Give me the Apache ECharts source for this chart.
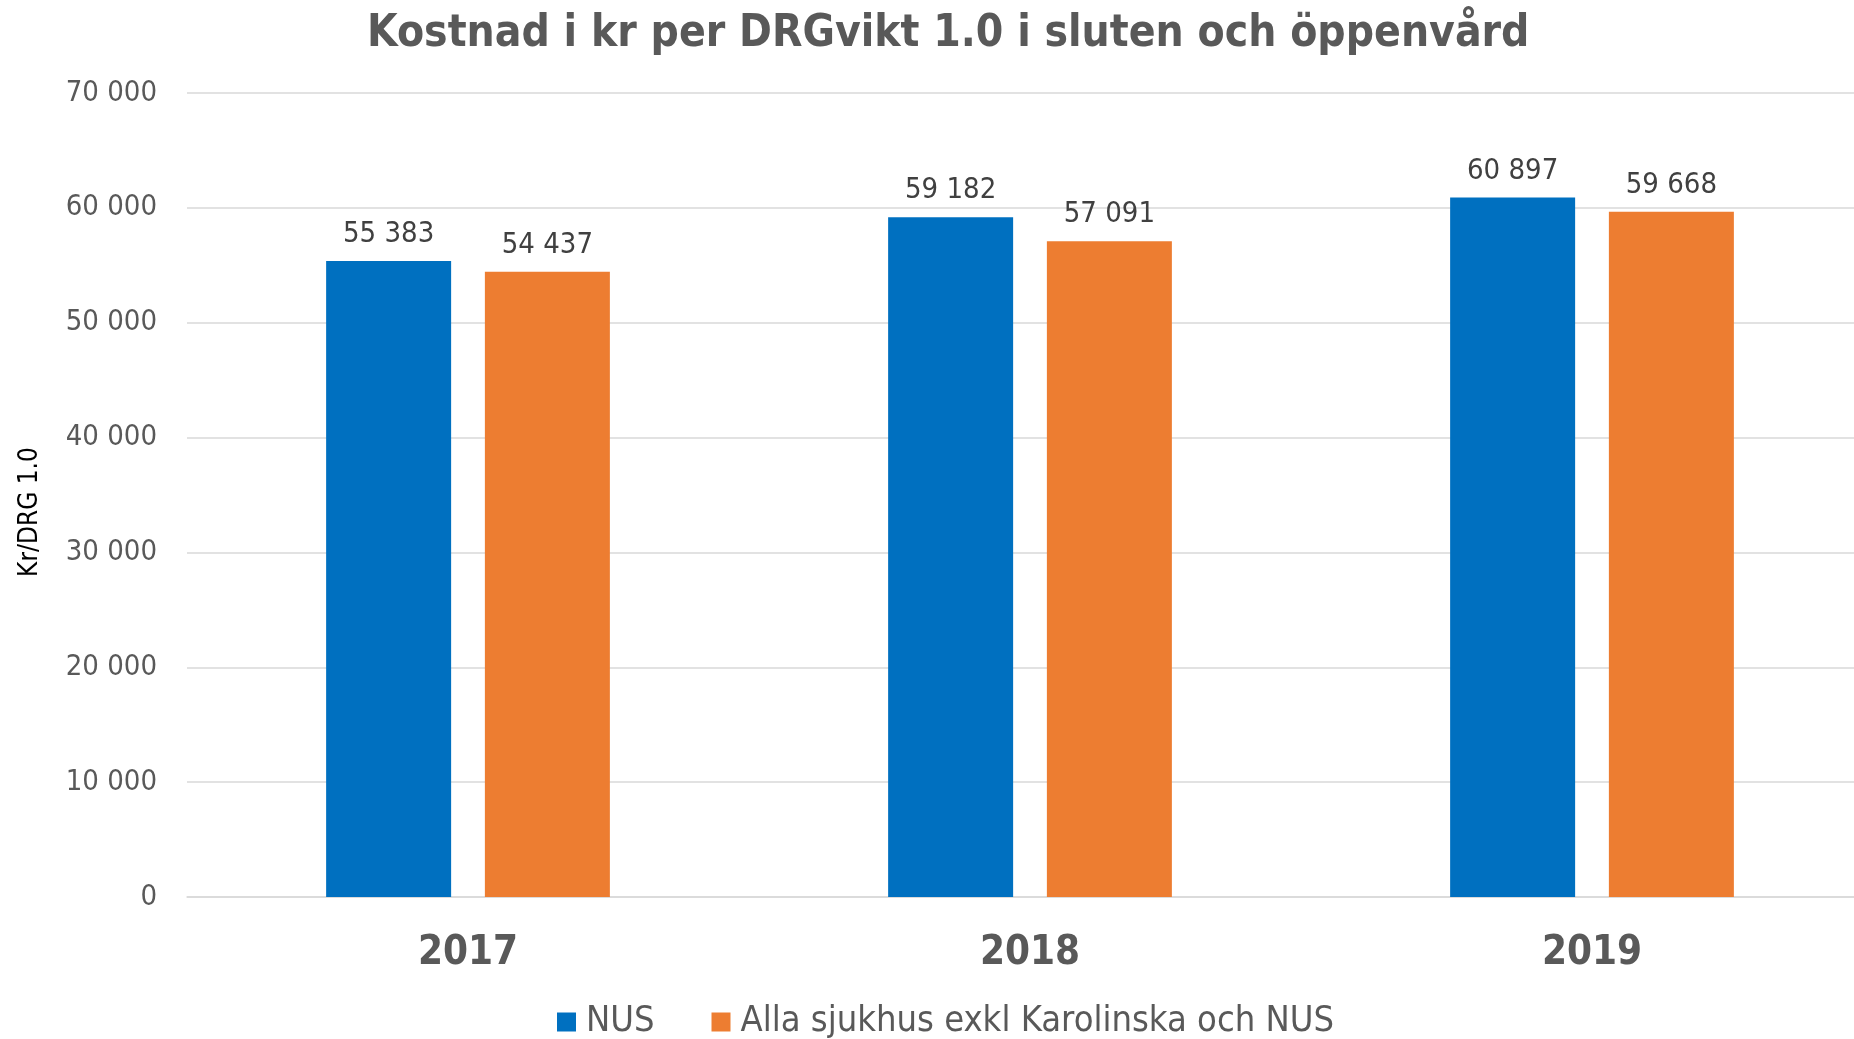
<!DOCTYPE html>
<html>
<head>
<meta charset="utf-8">
<script src="https://cdn.jsdelivr.net/npm/echarts@6/dist/echarts.min.js"></script>
<style>
html,body{margin:0;padding:0;background:#fff;overflow:hidden;}
#chart{width:1854px;height:1039px;}
</style>
</head>
<body>
<div id="chart"></div>
<script>
const titleText = 'Kostnad i kr per DRGvikt 1.0 i sluten och öppenvård';
const categories = ['2017', '2018', '2019'];
const seriesNames = ['NUS', 'Alla sjukhus exkl Karolinska och NUS'];
const nusValues = [55383, 59182, 60897];
const allaValues = [54437, 57091, 59668];
const yAxisName = 'Kr/DRG 1.0';

const FONT = '"DejaVu Sans Condensed", "DejaVu Sans", sans-serif';
function fmt(v) {
  return String(v).replace(/\B(?=(\d{3})+(?!\d))/g, ' ');
}

const chart = echarts.init(document.getElementById('chart'));
chart.setOption({
  backgroundColor: '#ffffff',
  animation: false,
  title: {
    text: titleText,
    left: 362,
    top: 8,
    textStyle: { fontFamily: FONT, fontSize: 44, fontWeight: 'bold', color: '#595959' }
  },
  legend: {
    data: seriesNames,
    left: 552,
    top: 999,
    icon: 'rect',
    itemWidth: 19,
    itemHeight: 19,
    itemGap: 57,
    textStyle: { fontFamily: FONT, fontSize: 36, color: '#595959', padding: [0, 0, 0, 5] }
  },
  grid: { left: 187, width: 1686, top: 93, height: 804, containLabel: false, outerBoundsMode: 'none' },
  xAxis: {
    type: 'category',
    data: categories,
    axisLine: { lineStyle: { color: '#D9D9D9', width: 1.5 } },
    axisTick: { show: false },
    axisLabel: { fontFamily: FONT, fontSize: 40, fontWeight: 'bold', color: '#595959', margin: 37 }
  },
  yAxis: {
    type: 'value',
    min: 0,
    max: 70000,
    interval: 10000,
    name: yAxisName,
    nameLocation: 'middle',
    nameRotate: 90,
    nameGap: 144,
    nameTextStyle: { fontFamily: FONT, fontSize: 26, color: '#000000', padding: [0, 34, 0, 0] },
    axisLine: { show: false },
    axisTick: { show: false },
    splitLine: { lineStyle: { color: '#D9D9D9', width: 1.5 } },
    axisLabel: { fontFamily: FONT, fontSize: 29, color: '#595959', margin: 30, formatter: fmt }
  },
  series: [
    {
      name: seriesNames[0],
      type: 'bar',
      data: nusValues,
      barWidth: 125,
      barGap: '27%',
      itemStyle: { color: '#0070C0' },
      label: { show: true, position: 'top', distance: 12, fontFamily: FONT, fontSize: 29, color: '#404040', formatter: p => fmt(p.value) }
    },
    {
      name: seriesNames[1],
      type: 'bar',
      data: allaValues,
      barWidth: 125,
      barGap: '27%',
      itemStyle: { color: '#ED7D31' },
      label: { show: true, position: 'top', distance: 12, fontFamily: FONT, fontSize: 29, color: '#404040', formatter: p => fmt(p.value) }
    }
  ]
});
</script>
</body>
</html>
